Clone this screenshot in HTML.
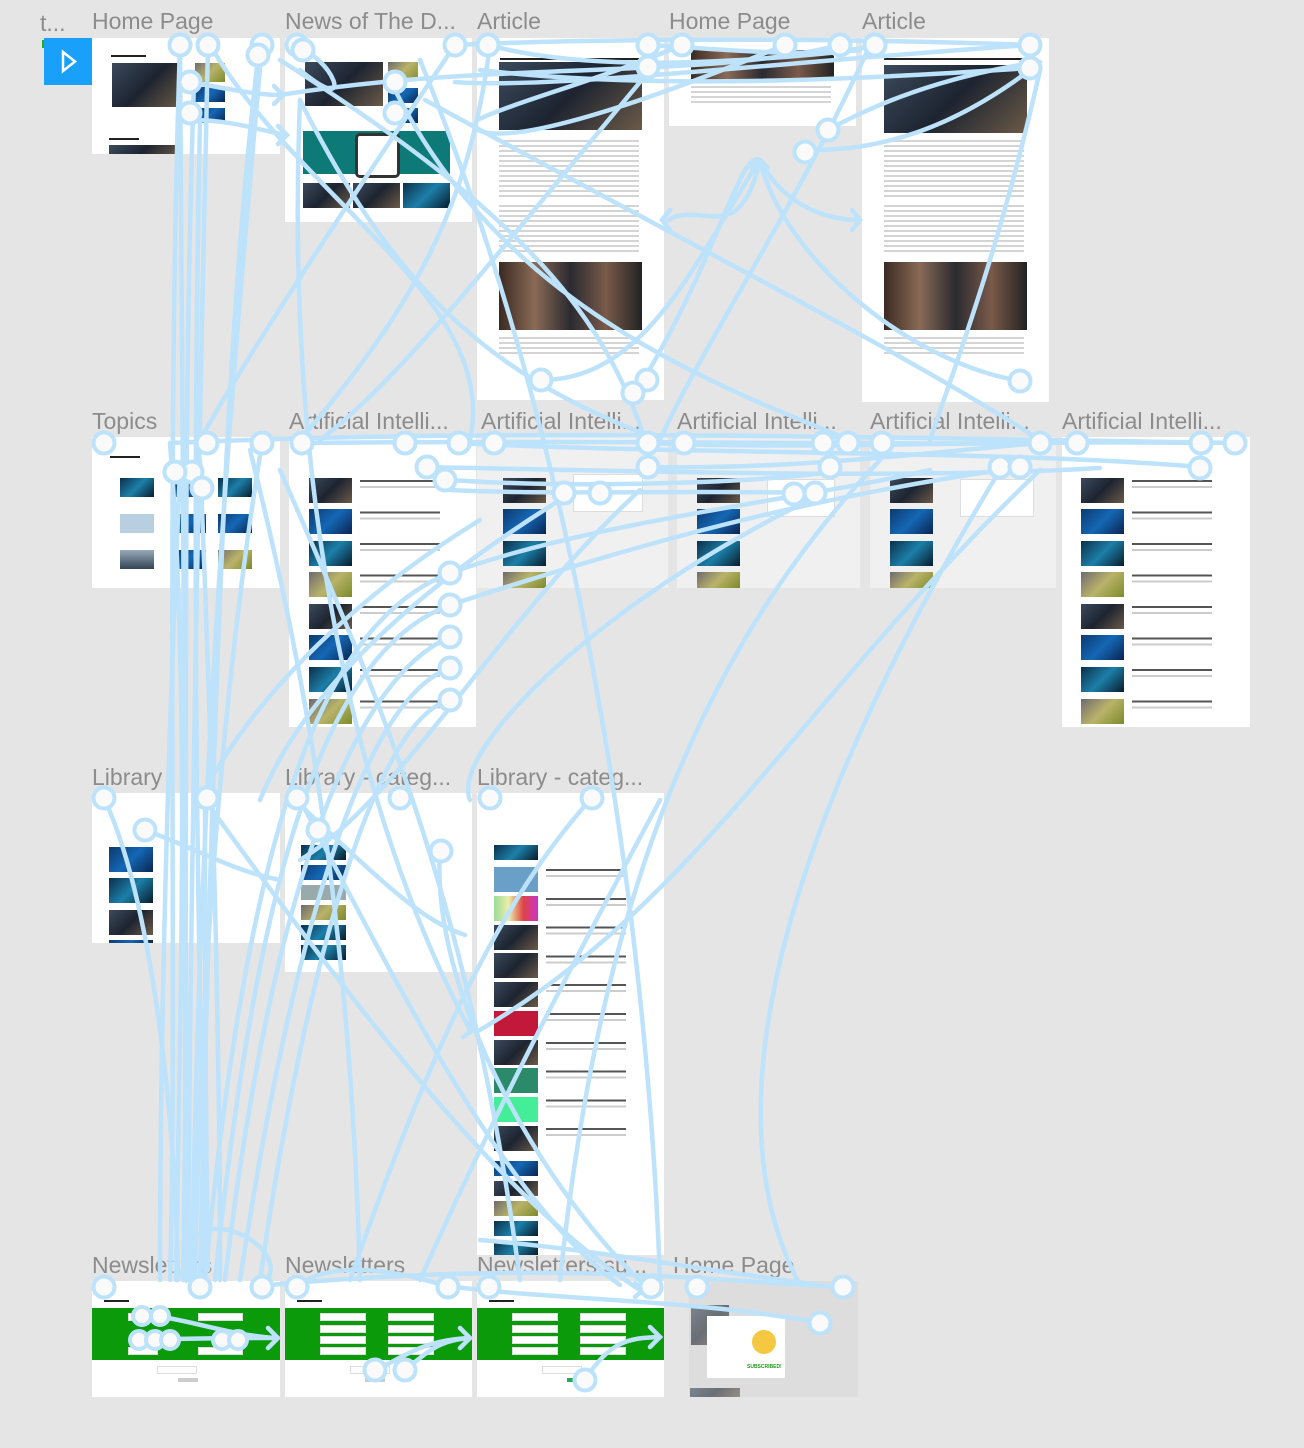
<!DOCTYPE html>
<html><head><meta charset="utf-8"><style>
*{margin:0;padding:0;box-sizing:border-box}
body{width:1304px;height:1448px;background:#e5e5e5;position:relative;overflow:hidden;font-family:"Liberation Sans",sans-serif}
.f{position:absolute;background:#fff}
.g{background:#f0f0f0}
.t{position:absolute;font-size:23px;color:#8c8c8c;line-height:24px;white-space:nowrap}
.i{position:absolute;background:linear-gradient(135deg,#3b4a5c,#1d2430 50%,#6b5a48)}
.b{background:linear-gradient(135deg,#0d3a6e,#1467b5 50%,#0a2550)}
.y{background:linear-gradient(135deg,#6f6a6e,#b9b36a 50%,#7d8a2a)}
.c{background:linear-gradient(135deg,#0b2f4a,#1c7fa8 50%,#081c2c)}
.l{position:absolute;height:2px;background:#bbb}
.k{position:absolute;height:3px;background:#222}
.gr{position:absolute;background:#0a9a0a}
.w{position:absolute;background:#fff;border:1px solid #ddd}
</style></head><body>
<div class="t" style="left:40px;top:11px">t...</div>
<div class="t" style="left:92px;top:9px">Home Page</div>
<div class="t" style="left:285px;top:9px">News of The D...</div>
<div class="t" style="left:477px;top:9px">Article</div>
<div class="t" style="left:669px;top:9px">Home Page</div>
<div class="t" style="left:862px;top:9px">Article</div>
<div class="t" style="left:92px;top:409px">Topics</div>
<div class="t" style="left:289px;top:409px">Artificial Intelli...</div>
<div class="t" style="left:481px;top:409px">Artificial Intelli...</div>
<div class="t" style="left:677px;top:409px">Artificial Intelli...</div>
<div class="t" style="left:870px;top:409px">Artificial Intelli...</div>
<div class="t" style="left:1062px;top:409px">Artificial Intelli...</div>
<div class="t" style="left:92px;top:765px">Library</div>
<div class="t" style="left:285px;top:765px">Library - categ...</div>
<div class="t" style="left:477px;top:765px">Library - categ...</div>
<div class="t" style="left:92px;top:1253px">Newsletters</div>
<div class="t" style="left:285px;top:1253px">Newsletters</div>
<div class="t" style="left:477px;top:1253px">Newsletters su...</div>
<div class="t" style="left:673px;top:1253px">Home Page</div>
<div style="position:absolute;left:42px;top:40px;width:4px;height:8px;background:#1db21d"></div>
<div style="position:absolute;left:44px;top:38px;width:48px;height:47px;background:#18a0fb"></div>
<svg style="position:absolute;left:44px;top:38px" width="48" height="47"><path d="M19 14 L31 23.5 L19 33 Z" fill="none" stroke="#fff" stroke-width="2.5"/></svg>

<div class="f" style="left:92px;top:38px;width:188px;height:116px"></div>
<div class="i" style="left:112px;top:63px;width:69px;height:44px"></div>
<div class="i y" style="left:195px;top:63px;width:30px;height:19px"></div>
<div class="i b" style="left:195px;top:87px;width:30px;height:15px"></div>
<div class="i b" style="left:195px;top:108px;width:30px;height:15px"></div>
<div class="k" style="left:111px;top:55px;width:35px;height:2px"></div>
<div class="k" style="left:109px;top:138px;width:30px;height:2px"></div>
<div class="i" style="left:109px;top:145px;width:72px;height:9px"></div>

<div class="f" style="left:285px;top:38px;width:187px;height:184px"></div>
<div class="i" style="left:305px;top:62px;width:78px;height:44px"></div>
<div class="i y" style="left:388px;top:62px;width:30px;height:19px"></div>
<div class="i b" style="left:388px;top:88px;width:30px;height:15px"></div>
<div class="i b" style="left:388px;top:108px;width:30px;height:15px"></div>
<div style="position:absolute;left:303px;top:131px;width:147px;height:43px;background:#0d7a78"></div>
<div style="position:absolute;left:355px;top:133px;width:45px;height:45px;background:#fff;border:3px solid #333;border-radius:5px"></div>
<div class="i" style="left:303px;top:183px;width:47px;height:25px"></div>
<div class="i" style="left:353px;top:183px;width:47px;height:25px"></div>
<div class="i c" style="left:403px;top:183px;width:47px;height:25px"></div>

<div class="f" style="left:477px;top:38px;width:187px;height:362px"></div>
<div class="i" style="left:499px;top:62px;width:143px;height:68px"></div>
<div class="i" style="left:499px;top:262px;width:143px;height:68px;background:linear-gradient(90deg,#3a2a22,#8a6a55,#2a2a30,#7a5a4a,#222)"></div>
<div class="k" style="left:500px;top:58px;width:140px;height:2px"></div>

<div class="f" style="left:669px;top:38px;width:187px;height:88px"></div>
<div class="i" style="left:691px;top:50px;width:143px;height:30px;background:linear-gradient(90deg,#3a2a22,#8a6a55,#2a2a30,#7a5a4a,#222)"></div>

<div class="f" style="left:862px;top:38px;width:187px;height:364px"></div>
<div class="k" style="left:884px;top:58px;width:140px;height:2px"></div>
<div class="i" style="left:884px;top:65px;width:143px;height:68px"></div>
<div class="i" style="left:884px;top:262px;width:143px;height:68px;background:linear-gradient(90deg,#3a2a22,#8a6a55,#2a2a30,#7a5a4a,#222)"></div>

<div class="l" style="left:499px;top:140px;width:140px;height:60px;background:repeating-linear-gradient(#d4d4d4 0 2px,transparent 2px 5px)"></div>
<div class="l" style="left:499px;top:205px;width:140px;height:50px;background:repeating-linear-gradient(#d4d4d4 0 2px,transparent 2px 5px)"></div>
<div class="l" style="left:499px;top:337px;width:140px;height:20px;background:repeating-linear-gradient(#d4d4d4 0 2px,transparent 2px 5px)"></div>
<div class="l" style="left:884px;top:140px;width:140px;height:60px;background:repeating-linear-gradient(#d4d4d4 0 2px,transparent 2px 5px)"></div>
<div class="l" style="left:884px;top:205px;width:140px;height:50px;background:repeating-linear-gradient(#d4d4d4 0 2px,transparent 2px 5px)"></div>
<div class="l" style="left:884px;top:337px;width:140px;height:20px;background:repeating-linear-gradient(#d4d4d4 0 2px,transparent 2px 5px)"></div>
<div class="l" style="left:691px;top:86px;width:140px;height:20px;background:repeating-linear-gradient(#d4d4d4 0 2px,transparent 2px 5px)"></div>

<div class="f" style="left:92px;top:437px;width:188px;height:151px"></div>
<div class="k" style="left:110px;top:456px;width:30px;height:2px"></div>
<div class="i c" style="left:120px;top:478px;width:34px;height:19px"></div>
<div class="i b" style="left:172px;top:478px;width:34px;height:19px"></div>
<div class="i c" style="left:218px;top:478px;width:34px;height:19px"></div>
<div class="i" style="left:120px;top:514px;width:34px;height:19px;background:#b7cfe0"></div>
<div class="i b" style="left:172px;top:514px;width:34px;height:19px"></div>
<div class="i b" style="left:218px;top:514px;width:34px;height:19px"></div>
<div class="i" style="left:120px;top:550px;width:34px;height:19px;background:linear-gradient(#9ab,#345)"></div>
<div class="i b" style="left:172px;top:550px;width:34px;height:19px"></div>
<div class="i y" style="left:218px;top:550px;width:34px;height:19px"></div>

<div class="f" style="left:289px;top:437px;width:187px;height:290px"></div>
<div class="i" style="left:309px;top:478px;width:43px;height:25px"></div>
<div class="i b" style="left:309px;top:509px;width:43px;height:25px"></div>
<div class="i c" style="left:309px;top:541px;width:43px;height:25px"></div>
<div class="i y" style="left:309px;top:572px;width:43px;height:25px"></div>
<div class="i" style="left:309px;top:604px;width:43px;height:25px"></div>
<div class="i b" style="left:309px;top:635px;width:43px;height:25px"></div>
<div class="i c" style="left:309px;top:667px;width:43px;height:25px"></div>
<div class="i y" style="left:309px;top:699px;width:43px;height:25px"></div>

<div class="f g" style="left:477px;top:437px;width:191px;height:151px"></div>
<div class="i" style="left:503px;top:478px;width:43px;height:25px"></div>
<div class="i b" style="left:503px;top:509px;width:43px;height:25px"></div>
<div class="i c" style="left:503px;top:541px;width:43px;height:25px"></div>
<div class="i y" style="left:503px;top:572px;width:43px;height:16px"></div>
<div class="w" style="left:573px;top:474px;width:70px;height:38px"></div>

<div class="f g" style="left:677px;top:437px;width:183px;height:151px"></div>
<div class="i" style="left:697px;top:478px;width:43px;height:25px"></div>
<div class="i b" style="left:697px;top:509px;width:43px;height:25px"></div>
<div class="i c" style="left:697px;top:541px;width:43px;height:25px"></div>
<div class="i y" style="left:697px;top:572px;width:43px;height:16px"></div>
<div class="w" style="left:767px;top:479px;width:68px;height:38px"></div>

<div class="f g" style="left:870px;top:437px;width:186px;height:151px"></div>
<div class="i" style="left:890px;top:478px;width:43px;height:25px"></div>
<div class="i b" style="left:890px;top:509px;width:43px;height:25px"></div>
<div class="i c" style="left:890px;top:541px;width:43px;height:25px"></div>
<div class="i y" style="left:890px;top:572px;width:43px;height:16px"></div>
<div class="w" style="left:960px;top:479px;width:74px;height:38px"></div>

<div class="f" style="left:1062px;top:437px;width:188px;height:290px"></div>
<div class="i" style="left:1081px;top:478px;width:43px;height:25px"></div>
<div class="i b" style="left:1081px;top:509px;width:43px;height:25px"></div>
<div class="i c" style="left:1081px;top:541px;width:43px;height:25px"></div>
<div class="i y" style="left:1081px;top:572px;width:43px;height:25px"></div>
<div class="i" style="left:1081px;top:604px;width:43px;height:25px"></div>
<div class="i b" style="left:1081px;top:635px;width:43px;height:25px"></div>
<div class="i c" style="left:1081px;top:667px;width:43px;height:25px"></div>
<div class="i y" style="left:1081px;top:699px;width:43px;height:25px"></div>
<div class="l" style="left:1132px;top:480px;width:80px;height:240px;background:repeating-linear-gradient(#555 0 2px,transparent 2px 6px,#ccc 6px 8px,transparent 8px 31.5px)"></div>
<div class="l" style="left:360px;top:480px;width:80px;height:240px;background:repeating-linear-gradient(#555 0 2px,transparent 2px 6px,#ccc 6px 8px,transparent 8px 31.5px)"></div>

<div class="f" style="left:92px;top:793px;width:188px;height:150px"></div>
<div class="i b" style="left:109px;top:847px;width:44px;height:25px"></div>
<div class="i c" style="left:109px;top:878px;width:44px;height:25px"></div>
<div class="i" style="left:109px;top:910px;width:44px;height:25px"></div>
<div class="i b" style="left:109px;top:940px;width:44px;height:3px"></div>

<div class="f" style="left:285px;top:793px;width:187px;height:179px"></div>
<div class="i c" style="left:301px;top:845px;width:45px;height:15px"></div>
<div class="i b" style="left:301px;top:865px;width:45px;height:15px"></div>
<div class="i" style="left:301px;top:885px;width:45px;height:15px;background:#9aa"></div>
<div class="i y" style="left:301px;top:905px;width:45px;height:15px"></div>
<div class="i c" style="left:301px;top:925px;width:45px;height:15px"></div>
<div class="i c" style="left:301px;top:945px;width:45px;height:15px"></div>

<div class="f" style="left:477px;top:793px;width:187px;height:462px"></div>
<div class="i c" style="left:494px;top:845px;width:44px;height:15px"></div>
<div class="i" style="left:494px;top:867px;width:44px;height:25px;background:#6aa0c8"></div>
<div class="i" style="left:494px;top:896px;width:44px;height:25px;background:linear-gradient(90deg,#9d9,#eea,#d44,#c3c)"></div>
<div class="i" style="left:494px;top:925px;width:44px;height:25px"></div>
<div class="i" style="left:494px;top:953px;width:44px;height:25px"></div>
<div class="i" style="left:494px;top:982px;width:44px;height:25px"></div>
<div class="i" style="left:494px;top:1011px;width:44px;height:25px;background:#c2183a"></div>
<div class="i" style="left:494px;top:1040px;width:44px;height:25px"></div>
<div class="i" style="left:494px;top:1068px;width:44px;height:25px;background:#2a8a6a"></div>
<div class="i" style="left:494px;top:1097px;width:44px;height:25px;background:#4e9"></div>
<div class="i" style="left:494px;top:1126px;width:44px;height:25px"></div>
<div class="i b" style="left:494px;top:1161px;width:44px;height:15px"></div>
<div class="i" style="left:494px;top:1181px;width:44px;height:15px"></div>
<div class="i y" style="left:494px;top:1201px;width:44px;height:15px"></div>
<div class="i c" style="left:494px;top:1221px;width:44px;height:15px"></div>
<div class="i c" style="left:494px;top:1241px;width:44px;height:14px"></div>
<div class="l" style="left:546px;top:869px;width:80px;height:280px;background:repeating-linear-gradient(#555 0 2px,transparent 2px 6px,#ccc 6px 8px,transparent 8px 28.8px)"></div>

<div class="f" style="left:92px;top:1281px;width:188px;height:116px"></div>
<div class="gr" style="left:92px;top:1308px;width:188px;height:52px"></div>
<div class="f" style="left:285px;top:1281px;width:187px;height:116px"></div>
<div class="gr" style="left:285px;top:1308px;width:187px;height:52px"></div>
<div class="f" style="left:477px;top:1281px;width:187px;height:116px"></div>
<div class="gr" style="left:477px;top:1308px;width:187px;height:52px"></div>
<div style="position:absolute;left:567px;top:1378px;width:14px;height:4px;background:#2a5"></div>
<div style="position:absolute;left:178px;top:1378px;width:20px;height:4px;background:#ccc"></div>
<div style="position:absolute;left:365px;top:1378px;width:20px;height:4px;background:#ccc"></div>
<div class="f" style="left:689px;top:1281px;width:169px;height:116px;background:#ddd"></div>
<div class="i" style="left:691px;top:1305px;width:38px;height:40px;opacity:.6"></div>
<div class="f" style="left:707px;top:1316px;width:78px;height:62px"></div>
<div style="position:absolute;left:752px;top:1330px;width:24px;height:24px;border-radius:50%;background:#f5c842"></div>
<div style="position:absolute;left:747px;top:1364px;font-size:5px;color:#1a9a1a;font-weight:bold">SUBSCRIBED!</div>
<div class="i" style="left:690px;top:1388px;width:50px;height:9px;opacity:.6"></div>
<div class="k" style="left:104px;top:1300px;width:25px;height:2px"></div>
<div class="k" style="left:297px;top:1300px;width:25px;height:2px"></div>
<div class="k" style="left:489px;top:1300px;width:25px;height:2px"></div>
<div class="w" style="left:128px;top:1313px;width:30px;height:8px"></div>
<div class="w" style="left:198px;top:1313px;width:45px;height:8px"></div>
<div class="w" style="left:128px;top:1347px;width:30px;height:8px"></div>
<div class="w" style="left:198px;top:1347px;width:45px;height:8px"></div>
<div class="w" style="left:320px;top:1313px;width:46px;height:8px"></div>
<div class="w" style="left:388px;top:1313px;width:46px;height:8px"></div>
<div class="w" style="left:320px;top:1325px;width:46px;height:8px"></div>
<div class="w" style="left:388px;top:1325px;width:46px;height:8px"></div>
<div class="w" style="left:320px;top:1336px;width:46px;height:8px"></div>
<div class="w" style="left:388px;top:1336px;width:46px;height:8px"></div>
<div class="w" style="left:320px;top:1347px;width:46px;height:8px"></div>
<div class="w" style="left:388px;top:1347px;width:46px;height:8px"></div>
<div class="w" style="left:512px;top:1313px;width:46px;height:8px"></div>
<div class="w" style="left:580px;top:1313px;width:46px;height:8px"></div>
<div class="w" style="left:512px;top:1325px;width:46px;height:8px"></div>
<div class="w" style="left:580px;top:1325px;width:46px;height:8px"></div>
<div class="w" style="left:512px;top:1336px;width:46px;height:8px"></div>
<div class="w" style="left:580px;top:1336px;width:46px;height:8px"></div>
<div class="w" style="left:512px;top:1347px;width:46px;height:8px"></div>
<div class="w" style="left:580px;top:1347px;width:46px;height:8px"></div>
<div class="w" style="left:157px;top:1366px;width:40px;height:8px"></div>
<div class="w" style="left:350px;top:1366px;width:40px;height:8px"></div>
<div class="w" style="left:542px;top:1366px;width:40px;height:8px"></div>

<svg style="position:absolute;left:0;top:0" width="1304" height="1448" fill="none" stroke="#bde2fb" stroke-width="4.5" stroke-linecap="round">
<path d="M180 45 C183 400 186 900 186 1280"/>
<path d="M208 45 C200 400 190 900 188 1280"/>
<path d="M180 45 C165 500 178 1000 170 1280"/>
<path d="M262 45 C240 300 200 700 192 1280"/>
<path d="M258 58 C230 300 215 600 200 1280"/>
<path d="M194 82 C180 500 190 900 183 1280"/>
<path d="M200 120 C190 600 200 1000 205 1280"/>
<path d="M105 800 C150 900 175 1100 178 1280"/>
<path d="M205 800 C205 900 205 1100 208 1270"/>
<path d="M170 443 C190 700 180 1000 176 1280"/>
<path d="M262 443 C220 700 200 1000 195 1280"/>
<path d="M200 460 C210 700 220 1000 220 1280"/>
<path d="M180 470 C170 700 160 1000 160 1280"/>
<path d="M182 80 C230 90 260 95 280 95"/>
<path d="M193 120 C230 120 260 130 285 135"/>
<path d="M297 48 C330 55 360 120 300 70"/>
<path d="M455 45 C600 38 850 38 1030 45"/>
<path d="M488 45 C600 75 760 60 860 50"/>
<path d="M648 45 C740 50 820 60 875 45"/>
<path d="M840 45 C700 80 500 60 280 95"/>
<path d="M1030 45 C800 60 550 90 455 82"/>
<path d="M1030 68 C850 80 650 90 480 70"/>
<path d="M682 45 C600 80 520 100 477 120"/>
<path d="M785 45 C700 80 520 150 478 130"/>
<path d="M828 130 C900 90 980 70 1040 62"/>
<path d="M812 150 C880 150 950 130 1030 70"/>
<path d="M647 374 C720 250 740 150 760 160"/>
<path d="M1020 381 C900 360 780 250 760 160 C740 250 700 200 668 220"/>
<path d="M760 160 C780 200 820 220 860 220"/>
<path d="M541 380 C650 380 700 250 760 160"/>
<path d="M490 45 C470 200 420 300 300 440"/>
<path d="M455 45 C350 200 250 350 200 440"/>
<path d="M650 70 C500 250 400 380 320 440"/>
<path d="M300 100 C400 300 500 380 660 440"/>
<path d="M395 90 C500 300 700 380 850 440"/>
<path d="M425 100 C700 250 900 350 1040 440"/>
<path d="M870 45 C800 200 700 350 660 440"/>
<path d="M1040 70 C1000 250 950 380 930 440"/>
<path d="M280 60 C500 200 600 300 645 440"/>
<path d="M210 45 C300 200 500 300 470 440"/>
<path d="M170 443 C500 428 900 438 1235 443"/>
<path d="M455 443 C700 455 1000 450 1200 467"/>
<path d="M298 443 C600 440 900 445 1040 443"/>
<path d="M647 443 C800 450 1000 440 1200 443"/>
<path d="M420 467 C600 470 900 480 1100 468"/>
<path d="M650 467 C800 470 950 450 1040 443"/>
<path d="M450 480 C600 490 800 480 840 470"/>
<path d="M450 490 C550 495 700 490 815 493"/>
<path d="M450 573 C330 620 250 800 205 1280"/>
<path d="M450 605 C330 650 260 850 215 1280"/>
<path d="M450 637 C350 680 270 900 225 1280"/>
<path d="M450 668 C360 700 290 950 240 1280"/>
<path d="M450 700 C370 720 300 1000 260 1280"/>
<path d="M450 573 C600 520 800 500 930 470"/>
<path d="M450 605 C650 540 800 500 1000 470"/>
<path d="M480 520 C350 600 250 700 200 800"/>
<path d="M560 500 C400 600 300 700 260 800"/>
<path d="M640 490 C500 620 400 800 300 860"/>
<path d="M820 495 C600 600 450 750 470 800"/>
<path d="M300 100 C280 600 400 900 470 1030"/>
<path d="M420 60 C600 500 650 1000 660 1280"/>
<path d="M205 800 C350 1000 500 1200 640 1290"/>
<path d="M300 800 C380 950 500 1200 620 1285"/>
<path d="M440 850 C430 1000 550 1200 650 1290"/>
<path d="M145 830 C200 850 230 870 280 880"/>
<path d="M295 800 C380 880 420 920 465 935"/>
<path d="M590 800 C500 900 430 1050 350 1280"/>
<path d="M660 800 C580 950 500 1100 420 1280"/>
<path d="M1040 470 C800 700 700 900 480 1030"/>
<path d="M880 460 C700 650 600 900 560 1280"/>
<path d="M1000 470 C800 800 700 1100 800 1285"/>
<path d="M280 470 C380 700 470 900 520 1280"/>
<path d="M250 450 C300 650 350 900 360 1280"/>
<path d="M820 1285 C700 1270 600 1250 480 1240"/>
<path d="M843 1287 C700 1280 550 1260 270 1285"/>
<path d="M150 1315 C190 1320 230 1335 275 1338"/>
<path d="M140 1340 C200 1338 240 1338 275 1338"/>
<path d="M375 1370 C400 1360 420 1340 470 1338"/>
<path d="M405 1370 C430 1350 440 1340 470 1338"/>
<path d="M585 1380 C610 1340 630 1338 660 1337"/>
<path d="M262 1287 C300 1250 200 1200 190 1250"/>
<path d="M448 1287 C400 1270 330 1260 300 1285"/>
<path d="M455 1287 C560 1300 700 1300 820 1323"/>
<path d="M268 1328 L278 1338 L268 1348 M460 1328 L470 1338 L460 1348 M650 1327 L660 1337 L650 1347 M274 86 L283 95 L274 104 M278 126 L287 135 L278 144 M465 1020 L473 1030 L463 1037 M670 210 L662 220 L670 230 M852 210 L860 220 L852 230 M752 168 L760 160 L768 168 M635 1283 L643 1290 L635 1297 M180 1272 L186 1280 L192 1272"/>
</svg>
<svg style="position:absolute;left:0;top:0" width="1304" height="1448" fill="#fafafa" stroke="#bde2fb" stroke-width="4">
<circle cx="180" cy="45" r="10.5"/><circle cx="208" cy="45" r="10.5"/><circle cx="262" cy="45" r="10.5"/><circle cx="258" cy="55" r="10.5"/><circle cx="190" cy="82" r="10.5"/><circle cx="190" cy="113" r="10.5"/>
<circle cx="297" cy="45" r="10.5"/><circle cx="303" cy="50" r="10.5"/><circle cx="455" cy="45" r="10.5"/><circle cx="395" cy="82" r="10.5"/><circle cx="395" cy="113" r="10.5"/>
<circle cx="488" cy="45" r="10.5"/><circle cx="648" cy="45" r="10.5"/><circle cx="648" cy="67" r="10.5"/><circle cx="682" cy="45" r="10.5"/><circle cx="785" cy="45" r="10.5"/><circle cx="840" cy="45" r="10.5"/><circle cx="875" cy="45" r="10.5"/><circle cx="1030" cy="45" r="10.5"/><circle cx="1030" cy="68" r="10.5"/>
<circle cx="828" cy="130" r="10.5"/><circle cx="805" cy="152" r="10.5"/><circle cx="1020" cy="381" r="10.5"/><circle cx="541" cy="380" r="10.5"/><circle cx="647" cy="380" r="10.5"/><circle cx="633" cy="393" r="10.5"/>
<circle cx="104" cy="443" r="10.5"/><circle cx="207" cy="443" r="10.5"/><circle cx="262" cy="443" r="10.5"/><circle cx="192" cy="472" r="10.5"/><circle cx="202" cy="488" r="10.5"/><circle cx="175" cy="472" r="10.5"/>
<circle cx="302" cy="443" r="10.5"/><circle cx="405" cy="443" r="10.5"/><circle cx="459" cy="443" r="10.5"/><circle cx="427" cy="467" r="10.5"/><circle cx="445" cy="480" r="10.5"/><circle cx="450" cy="573" r="10.5"/><circle cx="450" cy="605" r="10.5"/><circle cx="450" cy="637" r="10.5"/><circle cx="450" cy="668" r="10.5"/><circle cx="450" cy="700" r="10.5"/>
<circle cx="494" cy="443" r="10.5"/><circle cx="648" cy="443" r="10.5"/><circle cx="648" cy="467" r="10.5"/><circle cx="564" cy="493" r="10.5"/><circle cx="600" cy="493" r="10.5"/>
<circle cx="684" cy="443" r="10.5"/><circle cx="823" cy="443" r="10.5"/><circle cx="848" cy="443" r="10.5"/><circle cx="794" cy="494" r="10.5"/><circle cx="815" cy="493" r="10.5"/><circle cx="830" cy="467" r="10.5"/>
<circle cx="882" cy="443" r="10.5"/><circle cx="1000" cy="467" r="10.5"/><circle cx="1020" cy="467" r="10.5"/><circle cx="1040" cy="443" r="10.5"/>
<circle cx="1077" cy="443" r="10.5"/><circle cx="1201" cy="443" r="10.5"/><circle cx="1235" cy="443" r="10.5"/><circle cx="1200" cy="468" r="10.5"/>
<circle cx="104" cy="798" r="10.5"/><circle cx="207" cy="798" r="10.5"/><circle cx="145" cy="830" r="10.5"/>
<circle cx="297" cy="798" r="10.5"/><circle cx="400" cy="798" r="10.5"/><circle cx="318" cy="830" r="10.5"/><circle cx="441" cy="851" r="10.5"/>
<circle cx="490" cy="798" r="10.5"/><circle cx="592" cy="798" r="10.5"/>
<circle cx="104" cy="1287" r="10.5"/><circle cx="200" cy="1287" r="10.5"/><circle cx="262" cy="1287" r="10.5"/><circle cx="142" cy="1316" r="9"/><circle cx="160" cy="1316" r="9"/><circle cx="139" cy="1340" r="9"/><circle cx="155" cy="1340" r="9"/><circle cx="170" cy="1340" r="9"/><circle cx="222" cy="1340" r="9"/><circle cx="238" cy="1340" r="9"/>
<circle cx="297" cy="1287" r="10.5"/><circle cx="448" cy="1287" r="10.5"/><circle cx="375" cy="1370" r="10.5"/><circle cx="405" cy="1370" r="10.5"/>
<circle cx="489" cy="1287" r="10.5"/><circle cx="651" cy="1287" r="10.5"/><circle cx="585" cy="1380" r="10.5"/>
<circle cx="697" cy="1287" r="10.5"/><circle cx="843" cy="1287" r="10.5"/><circle cx="820" cy="1323" r="10.5"/>
</svg>
</body></html>
